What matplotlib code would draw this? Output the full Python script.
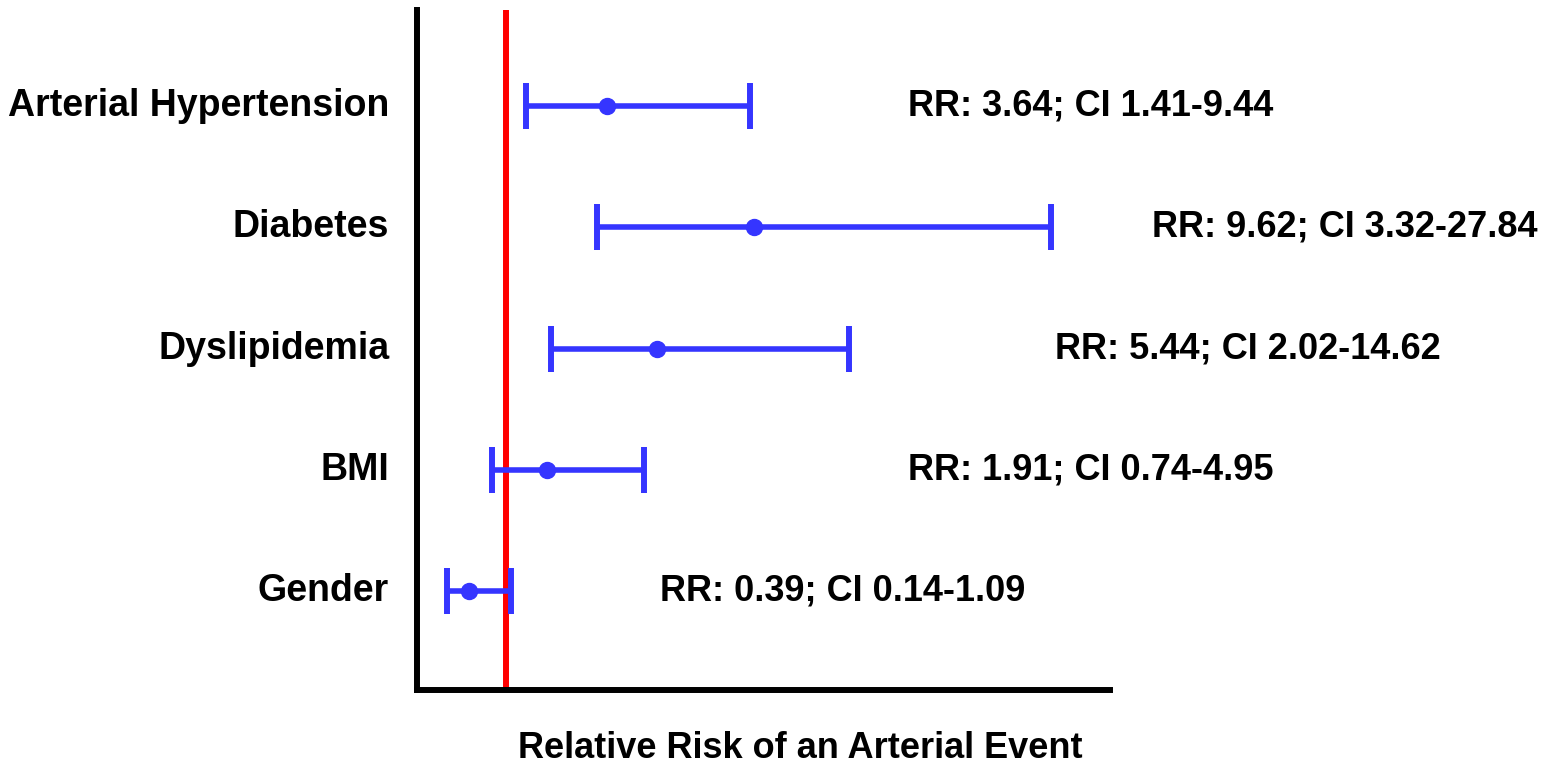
import numpy as np
import matplotlib
matplotlib.use("Agg")
import matplotlib.pyplot as plt

# Relative risks with 95% confidence intervals
factors = ["Arterial Hypertension", "Diabetes", "Dyslipidemia", "BMI", "Gender"]
rr = np.array([3.64, 9.62, 5.44, 1.91, 0.39])
ci_low = np.array([1.41, 3.32, 2.02, 0.74, 0.14])
ci_high = np.array([9.44, 27.84, 14.62, 4.95, 1.09])
labels = ["RR: 3.64; CI 1.41-9.44", "RR: 9.62; CI 3.32-27.84",
          "RR: 5.44; CI 2.02-14.62", "RR: 1.91; CI 0.74-4.95",
          "RR: 0.39; CI 0.14-1.09"]
label_x = [0.7085, 1.0606, 0.9206, 0.7085, 0.3506]

blue = "#3535FF"
plt.rcParams['font.family'] = ['Liberation Sans', 'DejaVu Sans']
plt.rcParams['font.weight'] = 'bold'

fig = plt.figure(figsize=(15.53, 7.68), dpi=100)
ax = fig.add_axes([417 / 1553, 1 - 689.5 / 768, 693 / 1553, 679.5 / 768])

# compressed x axis (power scale) so the wide intervals fit
def fwd(x):
    return np.sign(x) * np.abs(x) ** 0.6

def inv(u):
    return np.sign(u) * np.abs(u) ** (1 / 0.6)

ax.set_xscale('function', functions=(fwd, inv))

y = np.arange(len(factors))[::-1]

ax.axvline(1, color='#FF0000', lw=4.3, zorder=1)
ax.errorbar(rr, y, xerr=[rr - ci_low, ci_high - rr], fmt='o', color=blue,
            ms=11.5, elinewidth=4, capsize=16.5, capthick=4.3, zorder=3)

for yi, lab, lx in zip(y, labels, label_x):
    ax.text(lx, yi, lab, transform=ax.get_yaxis_transform(), fontsize=26,
            fontweight='bold', va='center', ha='left', clip_on=False)

ax.set_xlim(-0.005, 32.3)
ax.set_ylim(-0.812, 4.792)
ax.set_yticks(y)
ax.set_yticklabels(factors, fontsize=27, fontweight='bold', va='center')
ax.set_xticks([])
ax.xaxis.set_minor_locator(matplotlib.ticker.NullLocator())
ax.tick_params(axis='y', length=0, pad=20)

for side in ['top', 'right']:
    ax.spines[side].set_visible(False)
for side in ['left', 'bottom']:
    ax.spines[side].set_linewidth(4.3)
    ax.spines[side].set_color('black')

fig.text(800 / 1553, 1 - 748 / 768, "Relative Risk of an Arterial Event",
         fontsize=26, fontweight='bold', ha='center', va='center')

fig.savefig("out.png", dpi=100)
